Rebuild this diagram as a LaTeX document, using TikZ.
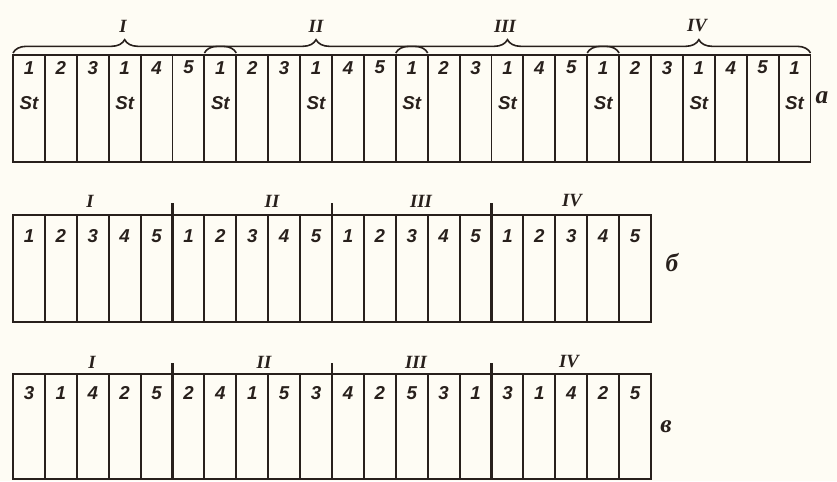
\documentclass[tikz,border=0pt]{standalone}
\usepackage{fontspec}
\setmainfont{Liberation Serif}
\newfontfamily\cellfont{Liberation Sans}
\usetikzlibrary{decorations.pathreplacing}
\definecolor{inkdark}{RGB}{40,32,28}
\definecolor{paper}{RGB}{254,252,244}
\tikzset{
  cellbox/.style={rectangle,draw=inkdark,line width=1.4pt,minimum width=23.925pt,minimum height=80.25pt,anchor=north west,inner sep=0pt,outer sep=0pt},
  celltext/.style={font=\cellfont\bfseries\itshape\fontsize{14}{14}\selectfont,text=inkdark,inner sep=0pt},
  grouplabel/.style={font=\bfseries\itshape\fontsize{14}{14}\selectfont,text=inkdark,inner sep=0pt},
  rowlabel/.style={font=\itshape\bfseries\fontsize{19}{19}\selectfont,text=inkdark,inner sep=0pt},
  groupbrace/.style={draw=inkdark,line width=1.2pt,decorate,decoration={brace,amplitude=10pt}},
  groupline/.style={draw=inkdark,line width=2pt}
}

\begin{document}
\begin{tikzpicture}[x=0.75pt,y=-0.75pt]
  \fill[paper] (0,0) rectangle (837,481);
  % row a: five-field rotation with St fields
  \foreach \d/\s [count=\i from 0] in {1/St,2/{},3/{},1/St,4/{},5/{},1/St,2/{},3/{},1/St,4/{},5/{},1/St,2/{},3/{},1/St,4/{},5/{},1/St,2/{},3/{},1/St,4/{},5/{},1/St}{
    \node[cellbox] (a\i) at ({13+31.9*\i},55) {};
    \node[celltext] (an\i) at ([yshift=-9.5pt]a\i.north) {\d};
    \node[celltext] (as\i) at ([yshift=-36pt]a\i.north) {\s};
  }
  \draw[groupbrace] ([yshift=1.5pt]a0.north west) -- ([yshift=1.5pt]a6.north east);
  \draw[groupbrace] ([yshift=1.5pt]a6.north west) -- ([yshift=1.5pt]a12.north east);
  \draw[groupbrace] ([yshift=1.5pt]a12.north west) -- ([yshift=1.5pt]a18.north east);
  \draw[groupbrace] ([yshift=1.5pt]a18.north west) -- ([yshift=1.5pt]a24.north east);
  \node[grouplabel] (ag1) at (123,26) {I};
  \node[grouplabel] (ag2) at (316,26) {II};
  \node[grouplabel] (ag3) at (505,26) {III};
  \node[grouplabel] (ag4) at (697,26) {IV};
  \node[rowlabel] (ra) at (822,98) {а};
  % row b
  \foreach \d [count=\i from 0] in {1,2,3,4,5,1,2,3,4,5,1,2,3,4,5,1,2,3,4,5}{
    \node[cellbox] (b\i) at ({13+31.9*\i},215) {};
    \node[celltext] (bn\i) at ([yshift=-16pt]b\i.north) {\d};
  }
  \foreach \g in {5,10,15}
    \draw[groupline] ([yshift=9pt]b\g.north west) -- (b\g.south west);
  \node[grouplabel] (bg1) at (90,201) {I};
  \node[grouplabel] (bg2) at (272,201) {II};
  \node[grouplabel] (bg3) at (421,201) {III};
  \node[grouplabel] (bg4) at (572,201) {IV};
  \node[rowlabel] (rb) at (672,263) {б};
  % row c
  \foreach \d [count=\i from 0] in {3,1,4,2,5,2,4,1,5,3,4,2,5,3,1,3,1,4,2,5}{
    \node[cellbox,minimum height=78.75pt] (c\i) at ({13+31.9*\i},374) {};
    \node[celltext] (cn\i) at ([yshift=-14pt]c\i.north) {\d};
  }
  \foreach \g in {5,10,15}
    \draw[groupline] ([yshift=8pt]c\g.north west) -- (c\g.south west);
  \node[grouplabel] (cg1) at (92,362) {I};
  \node[grouplabel] (cg2) at (264,362) {II};
  \node[grouplabel] (cg3) at (416,362) {III};
  \node[grouplabel] (cg4) at (569,362) {IV};
  \node[rowlabel] (rc) at (666,427) {в};
\end{tikzpicture}
\end{document}
